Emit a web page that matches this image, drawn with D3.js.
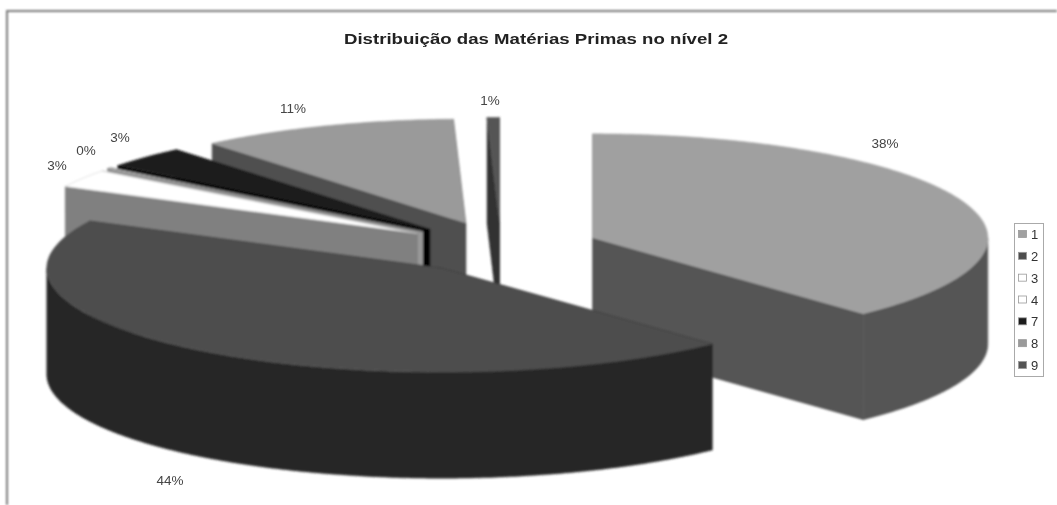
<!DOCTYPE html>
<html><head><meta charset="utf-8">
<style>html,body{margin:0;padding:0;background:#fff;overflow:hidden}svg{display:block}</style>
<script src="https://cdn.jsdelivr.net/npm/d3@7"></script></head>
<body><svg id="c" width="1057" height="505"></svg>
<script>
const categories = ["1","2","3","4","7","8","9"];
const shares = [38.0,44.49,2.81,0.2,3.4,10.6,0.5];
const shareLabels = ["38%","44%","3%","0%","3%","11%","1%"];
const titleText = "Distribuição das Matérias Primas no nível 2";

const W=1057,H=505;
const topColor = d3.scaleOrdinal(categories,["#a0a0a0","#4d4d4d","#ffffff","#ffffff","#1c1c1c","#9a9a9a","#555555"]);
const wallColor = d3.scaleOrdinal(categories,["#555555","#262626","#808080","#999999","#060606","#505050","#303030"]);
const edgeColor = d3.scaleOrdinal(categories,["#a0a0a0","#4d4d4d","#c4c4c4","#666666","#1c1c1c","#9a9a9a","#555555"]);
const legendColor = d3.scaleOrdinal(categories,["#a0a0a0","#4d4d4d","#ffffff","#ffffff","#1c1c1c","#9a9a9a","#555555"]);
const labelAt = {0:[885,143],1:[170,480],2:[57,165],3:[86,150],4:[120,137],5:[293,108],6:[490,100]};
const drawOrder = ["9","8","7","4","3","1","2"];

// unit circle -> screen
const cx=501, cy=247.4, rx=395, ry=104, depth=106, explode=0.25;
const sx=d3.scaleLinear([-1,1],[cx-rx,cx+rx]);
const sy=d3.scaleLinear([-1,1],[cy-ry,cy+ry]);
const line=d3.line();

const svg=d3.select("#c");
const defs=svg.append("defs");
defs.append("filter").attr("id","b").attr("x","-5%").attr("y","-5%").attr("width","110%").attr("height","110%")
  .append("feGaussianBlur").attr("stdDeviation",0.8);
defs.append("filter").attr("id","bt").attr("x","-5%").attr("y","-20%").attr("width","110%").attr("height","140%")
  .append("feGaussianBlur").attr("stdDeviation",0.75);

svg.append("rect").attr("width",W).attr("height",H).attr("fill","#fff");
const g=svg.append("g").attr("filter","url(#b)");
// frame
g.append("path").attr("d","M7,505V11H1057").attr("fill","none").attr("stroke","#7a7a7a").attr("stroke-width",2);

const arcs=d3.pie().sort(null).value(d=>d)(shares);
const slices=arcs.map((a,i)=>{
  const mid=(a.startAngle+a.endAngle)/2;
  return {cat:categories[i],a0:a.startAngle,a1:a.endAngle,
    ux:explode*Math.sin(mid),uy:-explode*Math.cos(mid)};
});
function pt(s,ang,r,dz){return [sx(s.ux+r*Math.sin(ang)),sy(s.uy-r*Math.cos(ang))+(dz||0)];}
function arcPts(s,a0,a1,dz){
  const n=Math.max(2,Math.ceil((a1-a0)/0.01));
  return d3.range(n+1).map(i=>pt(s,a0+(a1-a0)*i/n,1,dz));
}
const pies=g.append("g");
drawOrder.forEach(c=>{
  const s=slices.find(d=>d.cat===c);
  const top=topColor(c),wall=wallColor(c);
  const sg=pies.append("g").attr("stroke-linejoin","round");
  [s.a0,s.a1].forEach(ang=>{
    const p=[pt(s,ang,0,0),pt(s,ang,1,0),pt(s,ang,1,depth),pt(s,ang,0,depth)];
    sg.append("path").attr("d",line(p)+"Z").attr("fill",wall).attr("stroke",wall).attr("stroke-width",0.5);
  });
  const ra0=Math.max(s.a0,Math.PI/2),ra1=Math.min(s.a1,3*Math.PI/2);
  if(ra1>ra0){
    const p=arcPts(s,ra0,ra1,0).concat(arcPts(s,ra0,ra1,depth).reverse());
    sg.append("path").attr("d",line(p)+"Z").attr("fill",wall).attr("stroke",wall).attr("stroke-width",0.5);
  }
  const p=[pt(s,0,0,0)].concat(arcPts(s,s.a0,s.a1,0));
  sg.append("path").attr("d",line(p)+"Z").attr("fill",top)
    .attr("stroke",edgeColor(c)).attr("stroke-width",c==="4"?0.9:0.5);
});

// text
const t=svg.append("g").attr("filter","url(#bt)").attr("font-family","'Liberation Sans',Arial,sans-serif");
t.append("text").attr("x",344).attr("y",44).attr("textLength",384).attr("lengthAdjust","spacingAndGlyphs")
  .attr("font-size",15.5).attr("font-weight","bold").attr("fill","#222").text(titleText);
t.selectAll("text.l").data(shareLabels).join("text").attr("class","l")
  .attr("x",(d,i)=>labelAt[i][0]).attr("y",(d,i)=>labelAt[i][1]+5).attr("text-anchor","middle")
  .attr("font-size",13.5).attr("fill","#444").text(d=>d);

// legend
const ly=d3.scalePoint(categories,[234,365]);
const lg=svg.append("g").attr("filter","url(#bt)").attr("font-family","'Liberation Sans',Arial,sans-serif");
lg.append("rect").attr("x",1014.5).attr("y",223.5).attr("width",29).attr("height",153)
  .attr("fill","#fff").attr("stroke","#aaa");
categories.forEach(c=>{
  lg.append("rect").attr("x",1018.5).attr("y",ly(c)-3.5).attr("width",8).attr("height",7)
    .attr("fill",legendColor(c)).attr("stroke","#999").attr("stroke-width",0.8);
  lg.append("text").attr("x",1031).attr("y",ly(c)+5).attr("font-size",13).attr("fill","#333").text(c);
});
</script></body></html>
